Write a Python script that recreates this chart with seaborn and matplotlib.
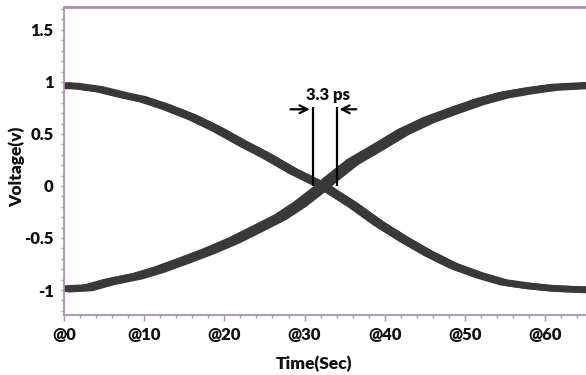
import numpy as np
import pandas as pd
import matplotlib
matplotlib.use("Agg")
import matplotlib.pyplot as plt
from matplotlib.ticker import MultipleLocator, FixedLocator
import seaborn as sns

# ---- data ----
fall_time = [0, 1.45, 4.4, 7.7, 9.8, 12.7, 16.0, 19.0, 22.3, 25.2, 28.5, 32.3,
             36.0, 39.2, 42.3, 45.4, 48.5, 51.7, 54.8, 57.9, 61.0, 64.75, 66.5]
falling_v = [0.964, 0.962, 0.93, 0.868, 0.834, 0.76, 0.66, 0.548, 0.407, 0.291, 0.144, 0.0,
             -0.183, -0.36, -0.51, -0.647, -0.766, -0.856, -0.926, -0.96, -0.984, -0.997, -0.998]
rise_time = [0, 2.9, 5.6, 9.1, 11.9, 15.1, 18.1, 21.2, 24.4, 27.0, 29.4, 32.3,
             33.1, 36.0, 39.2, 42.3, 45.4, 48.5, 51.7, 54.8, 57.9, 61.0, 64.75, 66.5]
rising_v = [-0.99, -0.978, -0.92, -0.865, -0.80, -0.71, -0.622, -0.52, -0.397, -0.295, -0.173, 0.0,
            0.058, 0.234, 0.378, 0.522, 0.635, 0.724, 0.81, 0.875, 0.916, 0.949, 0.964, 0.966]
jitter = [-0.6, -0.35, -0.12, 0.12, 0.35, 0.6]            # per-trace time jitter
amp_var = [0.012, -0.008, 0.004, -0.012, 0.008, -0.004]   # per-trace level variation
x_ticks = [0, 10, 20, 30, 40, 50, 60]
x_labels = ["@0", "@10", "@20", "@30", "@40", "@50", "@60"]
y_ticks = [-1, -0.5, 0, 0.5, 1, 1.5]
y_labels = ["-1", "-0.5", "0", "0.5", "1", "1.5"]
marker_t = [31.0, 34.0]
marker_top = 0.757
annot_text = "3.3 ps"

rows = []
for k, (dj, da) in enumerate(zip(jitter, amp_var)):
    for t, v in zip(fall_time, falling_v):
        rows.append({"t": t + dj, "v": v + da, "trace": f"f{k}"})
    for t, v in zip(rise_time, rising_v):
        rows.append({"t": t - dj, "v": v - da, "trace": f"r{k}"})
df = pd.DataFrame(rows)

sns.set_theme(style="white")
plt.rcParams["font.family"] = ["Lato", "DejaVu Sans"]
plt.rcParams["font.weight"] = "heavy"
W = "heavy"

fig = plt.figure(figsize=(5.86, 3.75), dpi=100)
ax = fig.add_axes([64 / 586, 60 / 375, 1 - 64 / 586, 308 / 375])

sns.lineplot(data=df, x="t", y="v", units="trace", estimator=None, color="#393939",
             linewidth=3.3, ax=ax, legend=False, sort=False,
             solid_joinstyle="round", solid_capstyle="round")

ax.set_xlim(0, 65.1)
ax.set_ylim(-1.24, 1.72)

spine_c = "#a990b8"
for s in ["left", "bottom", "top"]:
    ax.spines[s].set_color(spine_c)
    ax.spines[s].set_visible(True)
ax.spines["right"].set_visible(False)
ax.spines["left"].set_linewidth(1.3)
ax.spines["bottom"].set_linewidth(1.3)
ax.spines["top"].set_linewidth(2.0)

ax.xaxis.set_major_locator(FixedLocator(x_ticks))
ax.set_xticklabels(x_labels)
ax.xaxis.set_minor_locator(MultipleLocator(2))
ax.yaxis.set_major_locator(FixedLocator(y_ticks))
ax.set_yticklabels(y_labels)
ax.yaxis.set_minor_locator(MultipleLocator(0.1))

ax.tick_params(axis="x", which="major", direction="out", length=4, width=1, color=spine_c,
               bottom=True, pad=5, labelsize=12, labelcolor="#111111")
ax.tick_params(axis="x", which="minor", direction="out", length=2.5, width=1, color=spine_c, bottom=True)
ax.tick_params(axis="y", which="major", direction="out", length=2.5, width=1, color=spine_c,
               left=True, pad=5, labelsize=12, labelcolor="#111111")
ax.tick_params(axis="y", which="minor", direction="out", length=2.5, width=1, color=spine_c, left=True)
for lab in ax.get_xticklabels() + ax.get_yticklabels():
    lab.set_fontweight(W)

ax.set_xlabel("Time(Sec)", fontsize=12.5, fontweight=W, color="#111111")
ax.set_ylabel("Voltage(v)", fontsize=12.5, fontweight=W, color="#111111")
ax.xaxis.set_label_coords((314 - 64) / 522, -(356 - 315) / 308)
ax.yaxis.set_label_coords(-(64 - 25) / 522, (315 - 167) / 308)

# measurement markers
for mt in marker_t:
    ax.plot([mt, mt], [0, marker_top], color="black", lw=1.6, solid_capstyle="butt")
ax.annotate("", xy=(marker_t[0], 0.737), xytext=(27.9, 0.737),
            arrowprops=dict(arrowstyle="->", color="black", lw=1.6, mutation_scale=14))
ax.annotate("", xy=(marker_t[1], 0.737), xytext=(36.8, 0.737),
            arrowprops=dict(arrowstyle="->", color="black", lw=1.6, mutation_scale=14))
ax.text(32.9, 0.875, annot_text, ha="center", va="center", fontsize=12,
        fontweight=W, color="#111111")

fig.savefig("out.png", dpi=100)
